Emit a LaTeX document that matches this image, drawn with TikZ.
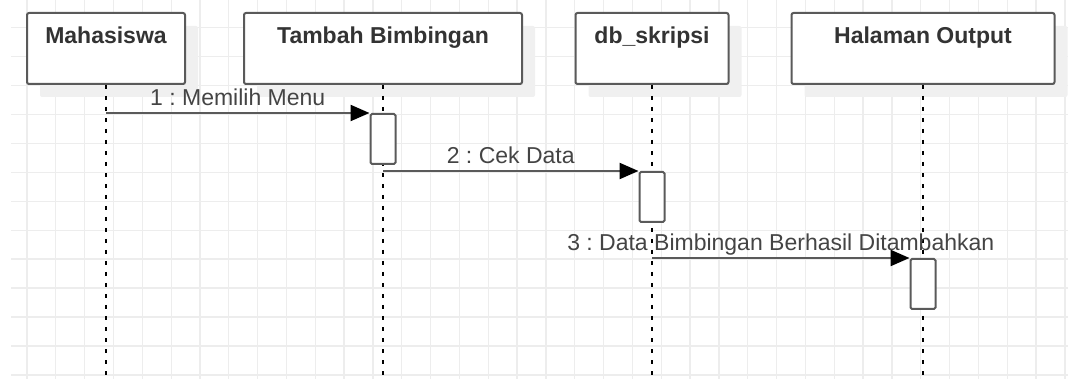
\documentclass[tikz,border=0pt]{standalone}
\usepackage{fontspec}
\setmainfont{Liberation Sans}
\frenchspacing
\usetikzlibrary{arrows.meta,shadows}
\definecolor{gridgray}{HTML}{EDEDED}
\definecolor{linegray}{HTML}{5A5A5A}
\definecolor{textgray}{HTML}{444444}
\begin{document}
\begin{tikzpicture}[x=1pt,y=-1pt,
    gridline/.style={gridgray,line width=1.3pt},
    obj/.style={draw=linegray,line width=2pt,fill=white,rounded corners=2pt,
      drop shadow={shadow xshift=13pt,shadow yshift=-13pt,fill=black!6,opacity=1},
      anchor=north,inner ysep=2pt,text height=29pt,text depth=38pt,
      font=\fontsize{23}{27}\selectfont\bfseries,text=black!80},
    act/.style={draw=linegray,line width=2pt,fill=white,rounded corners=1.5pt,
      anchor=north,minimum width=25pt,minimum height=50pt,inner sep=0pt},
    msg/.style={draw=linegray,line width=2.3pt,-{Triangle[length=19pt,width=16pt,color=black]}},
    lbl/.style={font=\fontsize{23}{27}\selectfont,text=textgray,anchor=base,yshift=7pt},
    life/.style={line width=1.5pt,dash pattern=on 4pt off 7pt}]
  \useasboundingbox (0,0) rectangle (1068,379);
  \foreach \i in {0,...,36} \draw[gridline] ({27+28.83*\i},0) -- ({27+28.83*\i},379);
  \foreach \j in {0,...,12} \draw[gridline] (11,{27.7+28.93*\j}) -- (1068,{27.7+28.93*\j});
  \coordinate (end) at (0,381);
  \node[obj,minimum width=158pt] (mhs) at (106,12) {Mahasiswa};
  \node[obj,minimum width=278pt] (tb) at (383,12) {Tambah Bimbingan};
  \node[obj,minimum width=153pt] (db) at (652,12) {db\_skripsi};
  \node[obj,minimum width=263pt] (out) at (923,12) {Halaman Output};
  \draw[life] (mhs.south) -- (mhs.south |- end);
  \draw[life] (tb.south) -- (tb.south |- end);
  \draw[life] (db.south) -- (db.south |- end);
  \draw[life] (out.south) -- (out.south |- end);
  \node[act] (a1) at (383,113) {};
  \node[act] (a2) at (652,171) {};
  \node[act] (a3) at (923,258) {};
  \draw[msg] (mhs |- a1.north) -- (a1.north west) node[lbl,midway] {1 : Memilih Menu};
  \draw[msg] (tb |- a2.north) -- (a2.north west) node[lbl,midway] {2 : Cek Data};
  \draw[msg] (db |- a3.north) -- (a3.north west) node[lbl,midway] {3 : Data Bimbingan Berhasil Ditambahkan};
\end{tikzpicture}
\end{document}
